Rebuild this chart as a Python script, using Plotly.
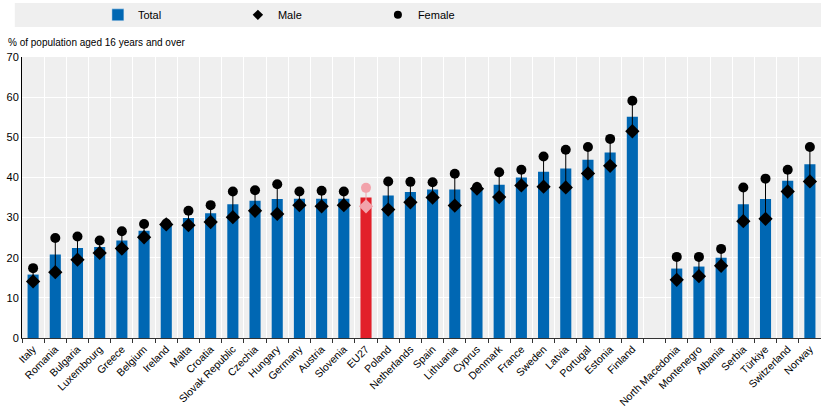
import plotly.graph_objects as go

categories = ["Italy", "Romania", "Bulgaria", "Luxembourg", "Greece", "Belgium", "Ireland",
              "Malta", "Croatia", "Slovak Republic", "Czechia", "Hungary", "Germany", "Austria",
              "Slovenia", "EU27", "Poland", "Netherlands", "Spain", "Lithuania", "Cyprus",
              "Denmark", "France", "Sweden", "Latvia", "Portugal", "Estonia", "Finland", "",
              "North Macedonia", "Montenegro", "Albania", "Serbia", "Türkiye", "Switzerland", "Norway"]
total = [15.8, 20.8, 22.4, 22.7, 24.3, 26.7, 28.5, 29.9, 31.1, 33.3, 34.2, 34.6, 34.7, 34.7,
         34.7, 35.0, 35.5, 36.4, 37.0, 37.0, 37.5, 38.2, 40.0, 41.4, 42.2, 44.4, 46.2, 55.1, None,
         17.3, 17.8, 20.0, 33.3, 34.6, 39.2, 43.3]
male = [14.1, 16.4, 19.5, 21.2, 22.3, 25.1, 28.3, 28.1, 28.9, 30.1, 31.7, 30.9, 33.1, 32.8,
        33.1, 32.8, 32.0, 33.8, 35.0, 33.0, 37.2, 35.1, 38.0, 37.7, 37.5, 41.0, 42.9, 51.5, None,
        14.5, 15.4, 18.0, 29.1, 29.7, 36.5, 39.0]
female = [17.4, 24.9, 25.3, 24.3, 26.6, 28.4, 28.5, 31.7, 33.1, 36.5, 36.8, 38.3, 36.5, 36.7,
          36.5, 37.4, 39.0, 38.9, 38.8, 40.9, 37.6, 41.3, 41.9, 45.2, 46.9, 47.6, 49.6, 59.1, None,
          20.2, 20.2, 22.2, 37.5, 39.7, 41.9, 47.6]
y_ticks = [0, 10, 20, 30, 40, 50, 60, 70]

highlight = "EU27"
BLUE = "#0067b3"
RED = "#e2202a"
PINK = "#f2a3ab"
FONT = "Liberation Sans, Arial, sans-serif"

xs = list(range(len(categories)))
bar_colors = [RED if c == highlight else BLUE for c in categories]
mk_colors = [PINK if c == highlight else "black" for c in categories]

fig = go.Figure()
fig.add_trace(go.Bar(x=xs, y=total, name="Total", marker=dict(color=bar_colors, line=dict(width=0)),
                     width=0.5, showlegend=False))

# connector lines between female and male
for col in ["black", PINK]:
    lx, ly = [], []
    for i, c in enumerate(categories):
        if female[i] is None or mk_colors[i] != col:
            continue
        lx += [i, i, None]
        ly += [female[i], male[i], None]
    fig.add_trace(go.Scatter(x=lx, y=ly, mode="lines", line=dict(color=col, width=1),
                             showlegend=False, hoverinfo="skip"))

fig.add_trace(go.Scatter(x=xs, y=male, mode="markers", name="Male", showlegend=False,
                         marker=dict(symbol="diamond", size=11, color=mk_colors, line=dict(width=0))))
fig.add_trace(go.Scatter(x=xs, y=female, mode="markers", name="Female", showlegend=False,
                         marker=dict(symbol="circle", size=10, color=mk_colors, line=dict(width=0))))

# legend-only entries (smaller symbols, as in the reference legend)
fig.add_trace(go.Bar(x=[None], y=[None], name="Total", marker=dict(color=BLUE), showlegend=True))
fig.add_trace(go.Scatter(x=[None], y=[None], mode="markers", name="Male", showlegend=True,
                         marker=dict(symbol="diamond", size=8, color="black")))
fig.add_trace(go.Scatter(x=[None], y=[None], mode="markers", name="Female", showlegend=True,
                         marker=dict(symbol="circle", size=8, color="black")))

# legend band
fig.add_shape(type="rect", xref="paper", yref="paper", x0=-0.009, x1=1.0, y0=1.107, y1=1.192,
              fillcolor="#efefef", line=dict(width=0), layer="below")

fig.add_annotation(text="% of population aged 16 years and over", xref="paper", yref="paper",
                   x=-0.02, y=1.05, xanchor="left", yanchor="middle", showarrow=False,
                   font=dict(size=10, color="black", family=FONT))

fig.update_layout(
    width=821, height=409,
    margin=dict(l=22, r=0, t=57, b=71),
    paper_bgcolor="white", plot_bgcolor="#efefef",
    font=dict(family=FONT, size=11, color="black"),
    showlegend=True,
    legend=dict(orientation="h", x=0.095, y=1.15, xanchor="left", yanchor="middle",
                bgcolor="rgba(0,0,0,0)", entrywidth=95, entrywidthmode="pixels",
                font=dict(size=11, family=FONT), traceorder="normal"),
    xaxis=dict(range=[-0.5, len(categories) - 0.5], tickmode="array", tickvals=xs,
               ticktext=categories, tickangle=-45, showgrid=False, ticks="", automargin=False,
               showline=True, linecolor="#333333", linewidth=1, zeroline=False,
               minor=dict(tickmode="linear", tick0=0.5, dtick=1, ticks="outside", ticklen=4,
                          tickcolor="#333333", showgrid=True, gridcolor="white", gridwidth=1),
               tickfont=dict(size=10.5, family=FONT)),
    yaxis=dict(range=[0, 70], tickvals=y_ticks, showgrid=True, gridcolor="white", gridwidth=1,
               showline=True, linecolor="black", linewidth=1, zeroline=False, ticks="",
               automargin=False, tickfont=dict(size=11, family=FONT)),
)

fig.write_html("out.html", config={"displayModeBar": False},
               post_script="document.body.style.margin='0';")
